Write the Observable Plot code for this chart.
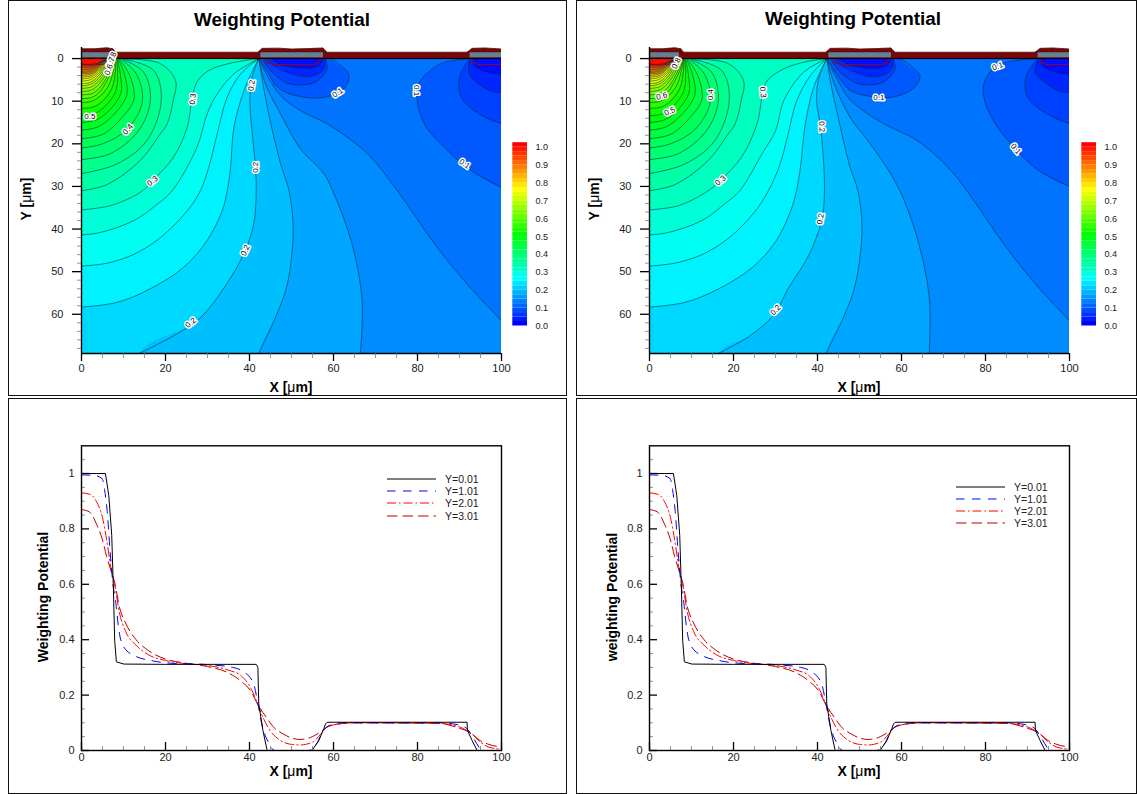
<!DOCTYPE html>
<html><head><meta charset="utf-8">
<script src="https://cdn.jsdelivr.net/npm/d3@7"></script>
<script src="https://cdn.jsdelivr.net/npm/@observablehq/plot@0.6"></script>
<style>
html,body{margin:0;padding:0;background:#fff}
#page{position:relative;width:1137px;height:794px;overflow:hidden;font-family:"Liberation Sans",Arial,sans-serif;color:#000}
#page svg{position:absolute;background:transparent;max-width:none}
.box{position:absolute;border:1.5px solid #111;box-sizing:border-box}
.t{position:absolute;white-space:nowrap}
.ttl{font-weight:bold;font-size:18.9px;transform:translate(-50%,-50%)}
.axl{font-weight:bold;font-size:14px;transform:translate(-50%,-50%)}
.ayl{font-weight:bold;font-size:14px;transform:translate(-50%,-50%) rotate(-90deg)}
.mu{font-weight:normal}
.leg{font-size:10.5px;transform:translateY(-50%);color:#222}
</style></head><body><div id="page"></div>
<script>
// ---------- contour levels shared by both field plots (left-hand high-potential arcs) [level, points x,y]
const cornerArcs = [
[0.325,[[0,31],[6,29.6],[14,23.9],[18.5,18],[20.4,15.3],[21.8,10],[22.4,5.2],[18.8,1.2],[10.9,0.1]]],
[0.35,[[0,27],[8.5,24.7],[15.6,19.2],[19,9.8],[17.2,2.8],[10,0.1]]],
[0.375,[[0,23.7],[6.9,22.3],[13.6,16.9],[16.4,9.8],[14.8,3.2],[9.7,0.1]]],
[0.4,[[0,21],[5,20],[11,16.5],[14.5,10],[13,3.5],[9.3,0.1]]],
[0.425,[[0,18.8],[5,17.8],[9.5,14],[12.5,9.5],[11.5,4],[9,0.1]]],
[0.45,[[0,16.8],[4,16],[8,12.8],[10.8,8.5],[10.3,4],[8.8,0.1]]],
[0.475,[[0,15],[3.5,14.4],[7,11.8],[9.4,8],[9.3,4],[8.6,0.2]]],
[0.5,[[0,13.4],[3,13],[6,10.8],[8.2,7.5],[8.6,3.5],[8.4,0.2]]],
[0.525,[[0,11.7],[3,11.3],[5.5,9.5],[7.3,6.8],[8,3.5],[8.2,0.2]]],
[0.55,[[0,10.3],[2.5,10],[5,8.3],[6.6,6],[7.5,3.2],[8.1,0.2]]],
[0.575,[[0,9.4],[2.5,9.1],[4.5,7.6],[6,5.3],[7.2,2.8],[8,0.2]]],
[0.6,[[0,8.5],[2.5,8.2],[4.3,6.9],[5.7,4.9],[6.9,2.6],[7.9,0.2]]],
[0.625,[[0,7.7],[2.3,7.4],[4,6.2],[5.4,4.4],[6.6,2.3],[7.7,0.2]]],
[0.65,[[0,7],[2.2,6.7],[3.8,5.6],[5.1,4],[6.3,2.1],[7.5,0.2]]],
[0.675,[[0,6.4],[2,6.1],[3.6,5.1],[4.8,3.7],[6,1.9],[7.4,0.2]]],
[0.7,[[0,5.9],[2,5.6],[3.4,4.7],[4.6,3.4],[5.8,1.7],[7.3,0.2]]],
[0.725,[[0,5.3],[2,5],[3.3,4.2],[4.5,3],[5.7,1.5],[7.2,0.2]]],
[0.75,[[0,4.8],[2,4.5],[3.2,3.8],[4.4,2.7],[5.6,1.3],[7.1,0.2]]],
[0.775,[[0,4.4],[2,4.1],[3.2,3.4],[4.3,2.4],[5.5,1.1],[6.9,0.2]]],
[0.8,[[0,4],[2,3.7],[3.2,3.1],[4.3,2.1],[5.4,1],[6.8,0.2]]],
[0.825,[[0,3.6],[2,3.4],[3.2,2.8],[4.2,1.9],[5.3,0.9],[6.7,0.2]]],
[0.85,[[0,3.3],[2,3.1],[3.2,2.5],[4.2,1.7],[5.2,0.8],[6.6,0.2]]],
[0.875,[[0,3],[2,2.8],[3.2,2.2],[4.2,1.5],[5.2,0.7],[6.5,0.2]]],
[0.9,[[0,2.6],[2,2.4],[3.3,1.9],[4.3,1.2],[5.2,0.6],[6.4,0.2]]],
[0.925,[[0,2.1],[2,2],[3.5,1.5],[4.5,0.9],[5.3,0.5],[6.3,0.2]]],
[0.95,[[0,1.7],[2.5,1.6],[4,1.1],[5,0.6],[6.2,0.2]]],
[0.975,[[0,1.4],[3,1.3],[4.5,0.8],[5.5,0.4],[6.1,0.1]]]
];
// ---------- mid levels, left plot
const midLinesL = [
[0.125,[[42.2,0],[44.5,4.5],[47.4,8.7],[52.1,12.2],[57.7,14.9],[63.2,18.4],[68.8,23],[75.2,31],[84.7,44.3],[91.8,52.9],[100,61.5]]],
[0.15,[[42.2,0],[43.8,6],[47.4,13],[52,21],[57.7,27],[60,31.5],[64.4,43.5],[66.8,56.8],[66.4,69.2]]],
[0.175,[[42.2,0],[43.2,6],[45,15],[47.4,24.7],[49.4,31],[50.4,40.4],[49,52.9],[46.5,60],[42.2,69.2]]],
[0.2,[[42.2,0],[40.6,4.4],[40.1,9.8],[41.4,25.5],[41.6,31],[41,38.8],[39,45],[34.6,52.8],[27.5,61.5],[13.7,69.2]]],
[0.225,[[0,58.3],[8.5,57.2],[16.4,54],[24.3,49],[29.9,42.7],[33.5,35.7],[34.7,31],[35.5,25.5],[36.3,16],[39,6.7],[42.2,0]]],
[0.25,[[0,48.7],[6.1,48],[12.5,45.9],[18.8,42],[25.2,35.7],[28.3,31],[30.3,25.5],[32.3,17.7],[34.7,9],[37.9,3.6],[42.2,0]]],
[0.275,[[0,41.4],[4.5,40.8],[12.5,38],[18,34.2],[21.6,31],[27.5,20.8],[29.9,13],[32.3,8.3],[36.3,3.6],[42.2,0]]],
[0.3,[[0,35.5],[6.9,34.5],[14,31.4],[17,28.6],[22,23],[25.2,16],[26.3,9.5],[27.5,5.5],[30.3,2.8],[36.3,0.9],[42.2,0]]]
];
// ---------- mid levels, right plot
const midLinesR = [
[0.125,[[42.2,0],[44.8,5],[47.9,9.8],[55.8,15.3],[63.7,19.2],[71.7,26.2],[77.2,33.3],[84.7,44],[92,53],[100,61.5]]],
[0.15,[[42.2,0],[44,6],[47.9,14],[51.8,19],[57.4,27],[60.5,33],[64,43],[66.6,56],[66.6,69.2]]],
[0.175,[[42.2,0],[43.2,6],[45.2,15],[47.6,25],[49.6,31],[50.6,40],[49,53],[46.5,60],[42,69.2]]],
[0.2,[[42.2,0],[40.2,5],[39.8,10],[40.7,16],[41.5,25],[41.6,33],[41,38],[38,46],[33,54],[29.7,60],[24,65],[16.4,69.2]]],
[0.225,[[0,58.3],[8.5,57.2],[16.5,54],[24.5,49],[30,43],[33.5,36],[35,31],[36,25],[37,16],[39,7],[42.2,0]]],
[0.25,[[0,48.7],[6,48],[12.5,46],[19,42],[25,36],[28.3,31],[31,25],[33,17.7],[35,10],[38.3,4],[42.2,0]]],
[0.275,[[0,41.4],[4.5,40.8],[12.5,38],[18,34],[21.5,31],[27,22],[30,17],[32,9.8],[36.7,3.2],[42.2,0]]],
[0.3,[[0,35.5],[7,34.5],[14,31],[16.9,28.6],[22,23],[25.6,15.3],[27,7.9],[28,5.2],[32,2.4],[37,0.8],[42.2,0]]]
];
// ---------- low-potential pockets under the two right-hand contacts
const pocketsL = [
[0.1,[[42.4,0],[44.5,3.5],[47,7],[52,8.9],[57.7,9.1],[62.5,7.1],[63.6,3.6],[59.3,0]]],
[0.075,[[43,0],[45,2.8],[47.3,4.8],[49.7,6],[55,5.8],[57.5,4],[58.5,2.4],[58,0]]],
[0.05,[[44,0],[46,1.8],[49,3.2],[51.5,4],[55.4,4],[57.7,2.4],[57.9,0]]],
[0.025,[[45,0],[47,1.2],[50,2],[53.6,2.3],[56.4,1.6],[57.4,0]]],
[0.1,[[92.2,0],[85.5,1.25],[80.7,5.2],[79.8,8.3],[81.6,15.3],[87.2,21.6],[92.7,26.2],[100,30.2]]],
[0.075,[[92.4,0],[90,4.4],[90.4,9],[94,12.6],[100,15.3]]],
[0.05,[[92.6,0],[92.2,3.2],[94,5.5],[97.2,7.5],[100,8]]],
[0.025,[[93,0],[93.5,1.6],[95.9,3],[100,3.75]]]
];
const pocketsR = [
[0.1,[[42.4,0],[44.5,3.5],[47.9,7.5],[54.6,9.1],[58.1,9],[62.8,7],[64.4,4],[59.6,0]]],
[0.075,[[43,0],[45,2.8],[47.5,4.8],[50,6],[55,5.8],[57.5,4],[58.5,2.4],[58,0]]],
[0.05,[[44,0],[46,1.8],[49,3.2],[51.5,4],[55.4,4],[57.7,2.4],[57.9,0]]],
[0.025,[[45,0],[47,1.2],[50,2],[53.6,2.3],[56.4,1.6],[57.4,0]]],
[0.1,[[92.3,0],[82.8,1.6],[79.6,5.9],[80,10.6],[82.8,16],[87.2,21.2],[92.3,26],[100,30]]],
[0.075,[[92.4,0],[89.6,4.4],[90,9],[94,12.6],[100,15.3]]],
[0.05,[[92.6,0],[91.8,3.2],[94,5.5],[97.2,7.5],[100,8]]],
[0.025,[[93,0],[93.5,1.6],[95.9,3],[100,3.75]]]
];
// ---------- contour labels [x, y, text, rotation]
const labelsL = [[7.3,-0.3,"0.8",-70],[6.9,0.9,"0.7",-70],[6.5,2.6,"0.6",-70],[2,13.5,"0.5",0],[11,16.6,"0.4",-50],[16.9,28.7,"0.3",-40],[26.5,9.5,"0.3",-85],[40.5,6.3,"0.2",-80],[41.4,25.5,"0.2",-90],[39,45,"0.2",-65],[26,62,"0.2",-40],[61,8,"0.1",-35],[79.7,7.5,"0.1",90],[91.2,24.7,"0.1",35]];
const labelsR = [[6.4,1.1,"0.8",-65],[2.9,8.8,"0.6",-15],[4.8,12.4,"0.5",-25],[14.4,8.5,"0.4",-90],[16.9,28.6,"0.3",-40],[27,7.9,"0.3",85],[41,16,"0.2",85],[40.7,37.6,"0.2",-80],[30,59,"0.2",-45],[54.6,9.1,"0.1",0],[82.9,1.8,"0.1",-20],[87.2,21.2,"0.1",50]];
// ---------- device structure drawn over the top of the field plots
const oxideBody = [[-1,-1.5],[101,-1.5],[101,-0.05],[-1,-0.05]];
const contactA = [[-1,-2.3],[3,-2.3],[6,-2.55],[7.5,-2.3],[8.2,-1.3],[8.4,-0.1],[-1,-0.1]];
const contactB = [[41.6,-0.1],[42,-1.5],[43,-2.4],[47,-2.45],[50,-2.25],[54,-2.35],[57.5,-2.5],[58.4,-1.5],[58.8,-0.1]];
const contactC = [[91.2,-0.1],[91.8,-1.5],[93,-2.4],[96,-2.5],[100,-2.25],[101,-2.25],[101,-0.1]];
const metalA = [[-1,-1.5],[7,-1.5],[7,-0.3],[-1,-0.3]];
const metalB = [[42.6,-1.5],[57.5,-1.5],[57.5,-0.3],[42.6,-0.3]];
const metalC = [[92.4,-1.5],[101,-1.5],[101,-0.3],[92.4,-0.3]];
const implants = [
 [[0,1.35],[5.3,1.3],[6.6,0.7],[7,0]],
 [[43.8,0],[44,0.8],[45.4,1.4],[55.5,1.4],[56.7,0.8],[56.9,0]],
 [[93,0],[93.2,0.9],[94.5,1.4],[100,1.4]]
];
// ---------- line-plot series: x positions and potentials
const y001 = [[0,1],[5.7,1],[6.5,0.92],[7.2,0.777],[7.6,0.58],[7.9,0.398],[8.3,0.32],[10.1,0.312],[20,0.311],[41.6,0.311],[42,0.3],[42.2,0.169],[43.2,0.072],[44.2,0],[54.9,0],[56.5,0.036],[57.6,0.075],[58.1,0.096],[58.5,0.102],[91.8,0.102],[91.9,0.072],[93,0.036],[94.2,0],[100,0]];
const y101 = [[0,0.995],[3,0.993],[4.9,0.982],[5.5,0.94],[6.1,0.867],[6.8,0.72],[7.5,0.6],[8.1,0.542],[8.9,0.434],[10.1,0.373],[12.5,0.343],[16.5,0.325],[20.5,0.316],[30,0.31],[36,0.3],[39,0.28],[41,0.24],[42,0.17],[43,0.09],[44.5,0.03],[46,0],[54,0],[56,0.025],[57.5,0.07],[59,0.09],[62,0.1],[85,0.1],[90,0.092],[92,0.075],[93.5,0.04],[95.5,0],[100,0]];
const y201 = [[0,0.93],[2,0.925],[3.5,0.9],[5,0.84],[6,0.76],[7,0.66],[8,0.59],[9,0.5],[10.5,0.43],[13,0.38],[16,0.345],[20,0.325],[25,0.313],[30,0.307],[35,0.29],[38,0.27],[40.5,0.22],[42,0.165],[43.5,0.11],[45,0.07],[47,0.04],[50,0.022],[52,0.02],[55,0.03],[57,0.06],[58.5,0.085],[61,0.095],[65,0.1],[85,0.098],[90,0.085],[92.5,0.065],[95,0.03],[97,0.012],[100,0.005]];
const y301 = [[0,0.87],[2,0.86],[3.5,0.82],[5,0.76],[6,0.7],[7,0.65],[8,0.6],[9,0.52],[10.5,0.46],[13,0.4],[16,0.36],[20,0.33],[25,0.315],[30,0.303],[35,0.28],[38,0.25],[40.5,0.21],[42,0.165],[44,0.12],[46,0.08],[48,0.06],[50,0.045],[52,0.04],[55,0.05],[57,0.068],[58.5,0.085],[61,0.095],[65,0.1],[85,0.098],[90,0.08],[92.5,0.065],[95,0.035],[97,0.022],[100,0.012]];
const seriesNames = ["Y=0.01","Y=1.01","Y=2.01","Y=3.01"];
const seriesData = [y001,y101,y201,y301];
const seriesColors = ["#000000","#0000ff","#ff0000","#b40000"];
const seriesDash = ["none","8.5,7.5","9,3,1.5,3","10.5,5"];
// ---------- ticks
const xMajor = [0,20,40,60,80,100];
const xMinor = [5,10,15,25,30,35,45,50,55,65,70,75,85,90,95];
const yFieldMajor = [0,10,20,30,40,50,60];
const yFieldMinor = [2,4,6,8,12,14,16,18,22,24,26,28,32,34,36,38,42,44,46,48,52,54,56,58,62,64,66,68];
const yLineMajor = [0,0.2,0.4,0.6,0.8,1];
const yLineMinor = [0.05,0.1,0.15,0.25,0.3,0.35,0.45,0.5,0.55,0.65,0.7,0.75,0.85,0.9,0.95,1.05];
const barTicks = [0,0.1,0.2,0.3,0.4,0.5,0.6,0.7,0.8,0.9,1];
const barBands = [0,0.025,0.05,0.075,0.1,0.125,0.15,0.175,0.2,0.225,0.25,0.275,0.3,0.325,0.35,0.375,0.4,0.425,0.45,0.475,0.5,0.525,0.55,0.575,0.6,0.625,0.65,0.675,0.7,0.725,0.75,0.775,0.8,0.825,0.85,0.875,0.9,0.925,0.95,0.975,1];

const page = document.getElementById("page");
const rainbow = d3.scaleLinear().domain([0,0.25,0.5,0.75,1]).range(["#0000ff","#00ffff","#00ff00","#ffff00","#ff0000"]).clamp(true);
const FONT = '"Liberation Sans",Arial,sans-serif';
const pts = a => a.map(p => ({x:p[0],y:p[1]}));
const place = (svg,l,t) => {svg.style.left=l+"px";svg.style.top=t+"px";page.appendChild(svg);};
const addDiv = (cls,html,l,t) => {const d=document.createElement("div");d.className=cls;d.innerHTML=html;d.style.left=l+"px";d.style.top=t+"px";page.appendChild(d);};

function closeHigh(level,line){ // extend beyond the frame so the fill covers the high-potential side
  const a=line[0], b=line[line.length-1];
  if(a[0]===0){ return [[-10,a[1]],...line,[b[0],-5],[-10,-5]]; }          // axis to contact
  return [...line,[b[0]<100?b[0]:106,b[0]<100?82:68],[-10,82],[-10,-5],[a[0],-5]];
}
function closeLow(line){
  const b=line[line.length-1];
  return b[0]===100 ? [...line,[106,b[1]],[106,-5],[line[0][0],-5]] : [...line,[b[0],-5],[line[0][0],-5]];
}
function fieldPanel(left,mid,pockets,labels){
  const high=[...mid,...cornerArcs];
  const W=558,H=395;
  const marks=[];
  marks.push(Plot.rect([0],{x1:0,x2:100,y1:0,y2:69.2,fill:rainbow(0.1125)}));
  for(const [lv,line] of high) marks.push(Plot.line(pts(closeHigh(lv,line)),{x:"x",y:"y",curve:"catmull-rom",fill:rainbow(lv+0.0125),stroke:"none",clip:true}));
  for(const [lv,line] of pockets) marks.push(Plot.line(pts(closeLow(line)),{x:"x",y:"y",curve:"catmull-rom",fill:rainbow(lv-0.0125),stroke:"none",clip:true}));
  marks.push(Plot.rect([0],{x1:0,x2:100,y1:-2.6,y2:0,fill:"white"}));
  for(const [lv,line] of [...high,...pockets]) marks.push(Plot.line(pts(line),{x:"x",y:"y",curve:"catmull-rom",stroke:"#002a33",strokeWidth:0.55,clip:true}));
  for(const im of implants) marks.push(Plot.line(pts(im),{x:"x",y:"y",curve:"linear",stroke:"#a00018",strokeWidth:1.1,clip:true}));
  for(const c of [contactA,contactB,contactC,oxideBody]) marks.push(Plot.line(pts(c),{x:"x",y:"y",curve:"linear",fill:"#7a0505",stroke:"#4a1010",strokeWidth:0.8,clip:true}));
  for(const c of [metalA,metalB,metalC]) marks.push(Plot.line(pts(c),{x:"x",y:"y",curve:"linear",fill:"#5f8394",stroke:"none",clip:true}));
  marks.push(Plot.ruleY([0],{stroke:"#000",strokeWidth:1}));
  marks.push(Plot.text(labels,{x:d=>d[0],y:d=>d[1],text:d=>d[2],rotate:d=>d[3],fontSize:8,fill:"#000",stroke:"#fff",strokeWidth:3,fontFamily:FONT}));
  marks.push(Plot.ruleX([0],{stroke:"#000",strokeWidth:1.4}));
  marks.push(Plot.ruleY([69.2],{stroke:"#000",strokeWidth:1.4}));
  marks.push(Plot.axisX({ticks:xMinor,tickSize:5,tickFormat:()=>"",stroke:"#777",strokeWidth:0.8}));
  marks.push(Plot.axisX({ticks:xMajor,tickSize:8,tickPadding:3,fontSize:11,color:"#222",strokeWidth:1.3,stroke:"#000",label:null}));
  marks.push(Plot.axisY({ticks:yFieldMinor,tickSize:4,tickFormat:()=>"",stroke:"#777",strokeWidth:0.8}));
  marks.push(Plot.axisY({ticks:yFieldMajor,tickSize:9,tickPadding:9,fontSize:11,color:"#222",strokeWidth:1.3,stroke:"#000",label:null}));
  const svg=Plot.plot({width:W,height:H,marginLeft:72,marginRight:66,marginTop:46,marginBottom:43,
    x:{domain:[0,100],label:null},y:{domain:[69.2,-2.6],label:null},style:{fontFamily:FONT,background:"transparent"},marks});
  place(svg,left,1);
}
function colorBar(left){
  const bands=barBands.map(v=>({v}));
  const svg=Plot.plot({width:60,height:206,marginLeft:7.3,marginRight:38,marginTop:12.2,marginBottom:10.5,
    x:{domain:[0,1],axis:null},y:{domain:[0,1.025],label:null},color:{type:"identity"},style:{fontFamily:FONT,background:"transparent"},
    marks:[
      Plot.rect(bands,{x1:0,x2:1,y1:d=>d.v,y2:d=>d.v+0.025,fill:d=>rainbow(d.v)}),
      Plot.axisY({anchor:"right",ticks:barTicks,tickSize:0,tickPadding:8,fontSize:9.1,color:"#222",tickFormat:d=>d.toFixed(1),label:null})
    ]});
  place(svg,left,130);
}
function linePanel(left){
  const W=558,H=392,pw=420,ph=304.7;
  const marks=[];
  seriesData.forEach((s,i)=>marks.unshift(Plot.line(pts(s),{x:"x",y:"y",curve:i===0?"linear":"monotone-x",stroke:seriesColors[i],strokeWidth:1,strokeDasharray:seriesDash[i]==="none"?undefined:seriesDash[i]})));
  marks.push(Plot.ruleX(xMinor,{x:d=>d,insetTop:ph-4,stroke:"#777",strokeWidth:0.8}));
  marks.push(Plot.ruleX(xMajor,{x:d=>d,insetTop:ph-8,stroke:"#000",strokeWidth:1.3}));
  marks.push(Plot.ruleY(yLineMinor,{y:d=>d,insetRight:pw-4,stroke:"#777",strokeWidth:0.8}));
  marks.push(Plot.ruleY(yLineMajor,{y:d=>d,insetRight:pw-8,stroke:"#000",strokeWidth:1.3}));
  marks.push(Plot.frame({stroke:"#000",strokeWidth:1.4}));
  marks.push(Plot.axisX({ticks:xMajor,tickSize:0,tickPadding:3,fontSize:11,color:"#222",label:null}));
  marks.push(Plot.axisY({ticks:yLineMajor,tickSize:0,tickPadding:7,fontSize:11,color:"#222",tickFormat:d=>String(d),label:null}));
  const svg=Plot.plot({width:W,height:H,marginLeft:72,marginRight:66,marginTop:45.3,marginBottom:42,
    x:{domain:[0,100],label:null},y:{domain:[0,1.1],label:null},style:{fontFamily:FONT,background:"transparent"},marks});
  place(svg,left,400);
}
function legend(xLine,ys){
  seriesNames.forEach((n,i)=>{
    const ns="http://www.w3.org/2000/svg";
    const s=document.createElementNS(ns,"svg");
    s.setAttribute("width",50);s.setAttribute("height",4);
    const l=document.createElementNS(ns,"line");
    l.setAttribute("x1",0);l.setAttribute("x2",49);l.setAttribute("y1",2);l.setAttribute("y2",2);
    l.setAttribute("stroke",seriesColors[i]);l.setAttribute("stroke-width",1);
    if(seriesDash[i]!=="none")l.setAttribute("stroke-dasharray",seriesDash[i]);
    s.appendChild(l);place(s,xLine,ys[i]-2);
    addDiv("t leg",n,xLine+58,ys[i]);
  });
}
// frames
[[8,0,559,396],[576,0,561,396],[8,398,559,396],[576,398,561,396]].forEach(r=>{
  const d=document.createElement("div");d.className="box";
  d.style.cssText=`left:${r[0]}px;top:${r[1]}px;width:${r[2]}px;height:${r[3]}px`;page.appendChild(d);
});
fieldPanel(9,midLinesL,pocketsL,labelsL);
fieldPanel(577,midLinesR,pocketsR,labelsR);
colorBar(505);colorBar(1074);
linePanel(9);linePanel(577);
legend(387,[479,491,503,516]);
legend(956,[486.5,498.5,510.5,523]);
const xl='X [<span class="mu">&#956;</span>m]', yl='Y [<span class="mu">&#956;</span>m]';
addDiv("t ttl","Weighting Potential",282,20);
addDiv("t ttl","Weighting Potential",853,18.5);
addDiv("t axl",xl,291,387);addDiv("t axl",xl,859,387);
addDiv("t axl",xl,291,771);addDiv("t axl",xl,859,771);
addDiv("t ayl",yl,26,199);addDiv("t ayl",yl,594,199);
addDiv("t ayl","Weighting Potential",43,597);addDiv("t ayl","weighting Potential",612,597);
</script></body></html>
